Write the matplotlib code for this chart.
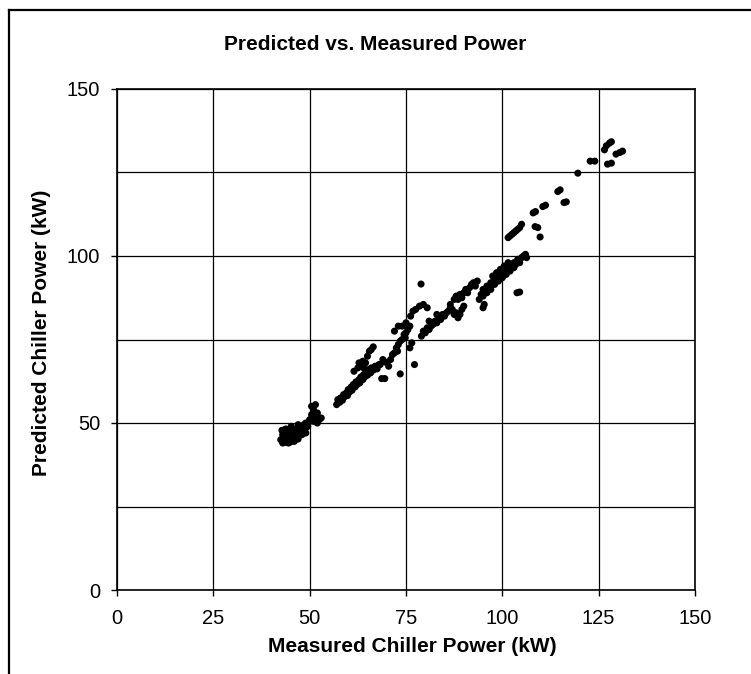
import matplotlib
matplotlib.use("Agg")
import matplotlib.pyplot as plt
from matplotlib.lines import Line2D

plt.rcParams['font.family'] = ['Liberation Sans', 'DejaVu Sans']

# =========================
# Data (kW)
# =========================

# low load cluster, around 45 kW
low_x = [42.5, 43, 43.5, 44, 44, 44.5, 45, 45, 45.5, 46, 46, 46.5, 47, 47, 47.5, 48, 48, 48.5,
         49, 49, 49.5, 50, 43, 44, 45, 46, 47, 48, 49, 44.5, 45.5, 46.5, 47.5, 42.8, 43.8, 45.2,
         44, 45, 46, 47, 48.5, 46.5, 43.5,
         50, 50.5, 51, 51.5, 52, 52.5, 51, 52, 53, 51.5, 50.5]
low_y = [45, 46.5, 44.5, 45.5, 47.5, 44, 46, 48, 45, 46.5, 44.5, 47.5, 46, 48.5, 47, 47.5, 49, 48,
         48.5, 50, 49, 50.5, 44, 44.2, 44.3, 45, 45.2, 46.5, 47, 46.8, 47.2, 45.5, 48.2, 47.8, 48.2, 49,
         46.5, 47, 48, 49.5, 49.5, 46, 48,
         51, 52.5, 54, 55.5, 53, 51, 50.5, 50, 51.5, 52, 55]

# 57 - 77 kW
mid_x = [57, 57.3, 57.8, 58, 58.5, 58.8, 59, 59.5, 59.8, 60, 60.3, 60.8, 61, 61.3, 61.8, 62, 62.3,
         62.8, 63, 63.3, 63.8, 64, 64.3, 64.8, 65, 65.3, 65.8, 66, 66.5, 67, 67.5, 68,
         61.5, 62.5, 63.2, 63.8, 64.5, 65, 65.5, 66, 66.5, 64, 62.8,
         68.3, 69, 69.7, 70.5, 68.7, 69.5, 73.5,
         71, 71.5, 72, 72.5, 72.8, 73, 73.5, 74, 74.5, 74.8, 75, 75.5, 76, 72, 73, 74, 75,
         76.5, 76, 77.2, 76.2, 76.8]
mid_y = [55.5, 57, 56.2, 57.5, 56.8, 58.5, 57.8, 59, 58.2, 60, 59.2, 60.8, 59.8, 61.5, 60.8, 62.3, 61.5,
         63, 62, 63.8, 63, 64.5, 63.8, 65.2, 64.3, 66, 65, 66.5, 65.8, 67, 66.2, 67.5,
         65.5, 66.5, 67, 68.5, 68, 70, 71.5, 72, 72.8, 66.5, 68,
         67.5, 69, 68.2, 67, 63.3, 63.3, 64.7,
         69, 70.5, 71, 72.5, 71.5, 73.5, 74.5, 75, 76.5, 75.5, 77, 78, 79, 77.5, 79, 79, 80,
         74, 72.5, 67.5, 82, 83.5]

# 77 - 107 kW
high_x = [77.5, 78.5, 79.5, 80.5, 78.9,
          79, 79.5, 80, 80.5, 81, 81.5, 82, 82.5, 83, 83.5, 84, 84.5, 85, 85.5, 86, 86.5, 87,
          87.5, 88, 88.5, 89, 89.5, 90, 81, 83,
          86.5, 87.5, 88, 88.5, 89, 89.5, 90, 90.5, 91, 91.5, 92, 92.5, 93, 93.5,
          95, 95.3, 103.8, 104.5,
          94, 94.5, 95, 95, 95.5, 96, 96, 96.5, 97, 97, 97.5, 98, 98, 98.5, 99, 99, 99.5, 100,
          100, 100.5, 101, 101, 101.5, 102, 102, 102.5, 103, 103, 103.5, 104, 104.5, 105, 105.5,
          106, 106.3, 99.5, 100.5, 101.5, 98.5, 97.5]
high_y = [84, 85, 85.5, 84.5, 91.6,
          76, 77.5, 77, 78.5, 78, 79, 79.5, 80.5, 80, 81.5, 81, 82.5, 82, 83, 83.5, 84.5, 84,
          82.5, 83, 81.5, 82.5, 84, 85, 80.5, 82.5,
          85.5, 87, 88, 87, 88.5, 87.5, 89, 90, 89, 90.5, 91.5, 92, 91, 92.5,
          84.5, 85.5, 89, 89.2,
          87, 88.5, 88, 90, 89.5, 91, 89, 90.5, 92, 90, 91.5, 93, 91.5, 92.5, 94, 92.5, 93.5, 95,
          93.5, 94.5, 96, 94.5, 95.5, 97, 95.5, 96.5, 98, 96.5, 97.5, 99, 98, 99.5, 100,
          100.5, 99.5, 96, 97, 98, 95, 94]

# above 100 kW predicted
top_x = [101.5, 102, 102.5, 103, 103.5, 104, 104.5, 105,
         108.5, 109.2, 109.8, 108, 108.6, 110.5, 111.2, 114.4, 115, 116, 116.6, 119.6,
         122.8, 124, 126.5, 127, 127.8, 128.3, 127.3, 128.3, 129.5, 130.5, 131.2]
top_y = [105.5, 106, 106.5, 107, 107.5, 108, 108.5, 109.5,
         108.8, 108.5, 105.7, 112.9, 113.3, 114.8, 115.2, 119.3, 119.8, 116, 116.2, 124.8,
         128.4, 128.4, 131.8, 133, 133.8, 134.2, 127.5, 127.8, 130.5, 131, 131.4]

measured = low_x + mid_x + high_x + top_x
predicted = low_y + mid_y + high_y + top_y


# =========================
# Plot
# =========================

fig = plt.figure(figsize=(7.51, 6.74), dpi=100)
ax = fig.add_axes([117/751, 1 - 590/674, 578/751, 501/674])

ax.scatter(measured, predicted, s=26, c='black', edgecolors='none', zorder=3)

ax.set_xlim(0, 150)
ax.set_ylim(0, 150)
ax.set_xticks([0, 25, 50, 75, 100, 125, 150])
ax.set_yticks([0, 50, 100, 150])
ax.set_yticks([25, 75, 125], minor=True)
ax.grid(True, which='both', color='black', linewidth=0.9)
ax.tick_params(which='major', direction='out', length=4, width=1, labelsize=14.5, colors='black')
ax.tick_params(axis='x', pad=10)
ax.tick_params(axis='y', pad=8)
ax.tick_params(which='minor', length=0)
for sp in ax.spines.values():
    sp.set_linewidth(1.2)

fig.text(375/751, 1 - 45/674, "Predicted vs. Measured Power", ha='center', va='center',
         fontsize=15, fontweight='bold')
fig.text(412/751, 1 - 647/674, "Measured Chiller Power (kW)", ha='center', va='center',
         fontsize=15, fontweight='bold')
fig.text(42/751, 1 - 333/674, "Predicted Chiller Power (kW)", ha='center', va='center',
         rotation=90, fontsize=15, fontweight='bold')

# chart frame (left and top edges visible in the scan)
fig.add_artist(Line2D([9/751, 9/751], [0, 1 - 10/674], transform=fig.transFigure,
                      color='black', linewidth=1.6))
fig.add_artist(Line2D([9/751, 1], [1 - 10/674, 1 - 10/674], transform=fig.transFigure,
                      color='black', linewidth=1.6))

fig.savefig("out.png", dpi=100)
plt.close()
